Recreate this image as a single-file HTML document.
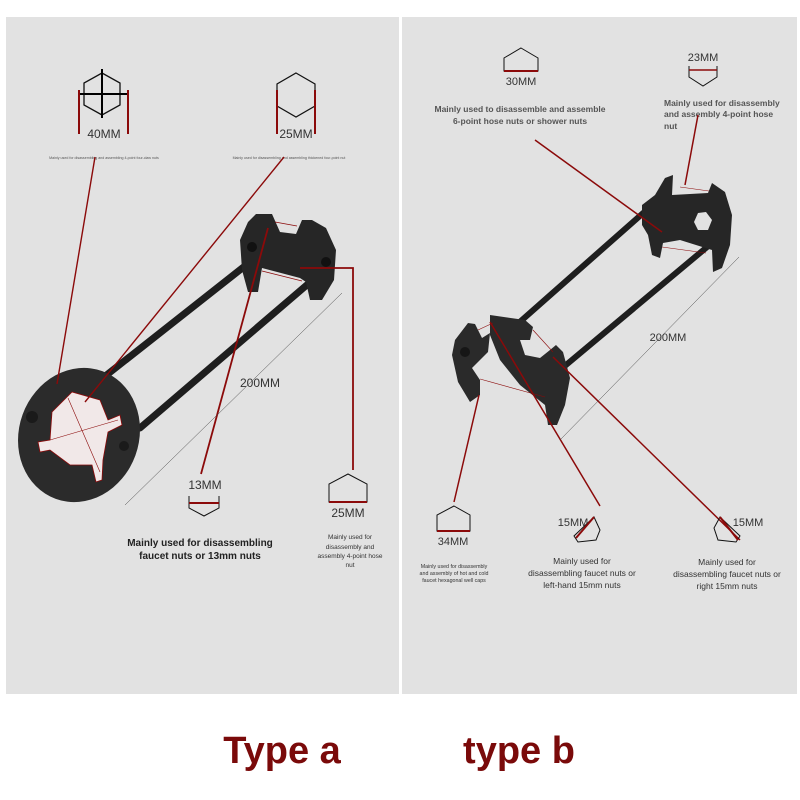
<!DOCTYPE html>
<html><head><meta charset="utf-8"><style>
html,body{margin:0;padding:0;background:#fff;}
svg{display:block;}
text{font-family:"Liberation Sans",sans-serif;}
</style></head><body>
<svg width="800" height="800" viewBox="0 0 800 800" xmlns="http://www.w3.org/2000/svg">
<rect x="0" y="0" width="800" height="800" fill="#fff"/>
<rect x="6" y="17" width="393" height="677" fill="#e2e2e2"/>
<rect x="402" y="17" width="395" height="677" fill="#e2e2e2"/>

<!-- ===== LEFT PANEL ===== -->
<polygon points="102,73 120,83 120,105 102,115 84,105 84,83" fill="none" stroke="#111" stroke-width="1.3"/>
<line x1="102" y1="69" x2="102" y2="118" stroke="#000" stroke-width="2"/>
<line x1="78" y1="94" x2="128" y2="94" stroke="#000" stroke-width="2"/>
<line x1="79" y1="90" x2="79" y2="134" stroke="#8b0a0a" stroke-width="2"/>
<line x1="128" y1="90" x2="128" y2="134" stroke="#8b0a0a" stroke-width="2"/>
<text x="104" y="138" font-size="12" fill="#333" text-anchor="middle">40MM</text>
<polygon points="296,73 315,84 315,106 296,117 277,106 277,84" fill="none" stroke="#111" stroke-width="1.2"/>
<line x1="277" y1="90" x2="277" y2="134" stroke="#8b0a0a" stroke-width="2"/>
<line x1="315" y1="90" x2="315" y2="134" stroke="#8b0a0a" stroke-width="2"/>
<text x="296" y="138" font-size="12" fill="#333" text-anchor="middle">25MM</text>
<text x="104" y="159" font-size="3.6" fill="#555" text-anchor="middle">Mainly used for disassembling and assembling 4-point four-claw nuts</text>
<text x="289" y="159" font-size="3.6" fill="#555" text-anchor="middle">Mainly used for disassembling and assembling thickened four-point nut</text>

<line x1="85" y1="392" x2="255" y2="258" stroke="#1e1e1e" stroke-width="7" stroke-linecap="round"/>
<line x1="140" y1="428" x2="322" y2="272" stroke="#1e1e1e" stroke-width="7" stroke-linecap="round"/>
<path d="M240,240 L248,222 L256,214 L272,214 L280,232 L296,234 L302,220 L312,220 L326,228 L336,250 L334,280 L322,300 L310,300 L306,282 L300,278 L262,268 L258,292 L248,292 L242,270 Z" fill="#262626"/>
<circle cx="252" cy="247" r="5" fill="#111"/>
<circle cx="326" cy="262" r="5" fill="#111"/>
<line x1="275" y1="222" x2="297" y2="226" stroke="#8b0a0a" stroke-width="0.7"/>
<line x1="262" y1="271" x2="302" y2="281" stroke="#8b0a0a" stroke-width="0.7"/>
<ellipse cx="79" cy="435" rx="60" ry="68" transform="rotate(20 79 435)" fill="#2b2b2b"/>
<path d="M52,412 L72,392 L100,400 L108,420 L120,415 L122,425 L108,432 L103,460 L102,480 L96,482 L92,465 L70,465 L50,450 L40,452 L38,442 L50,440 Z" fill="#f1e8e8" stroke="#8b0a0a" stroke-width="0.8"/>
<line x1="50" y1="440" x2="118" y2="420" stroke="#8b0a0a" stroke-width="0.6"/>
<line x1="68" y1="398" x2="100" y2="472" stroke="#8b0a0a" stroke-width="0.6"/>
<circle cx="32" cy="417" r="6" fill="#1a1a1a"/>
<circle cx="124" cy="446" r="5" fill="#1a1a1a"/>
<line x1="95" y1="157" x2="57" y2="384" stroke="#8b0a0a" stroke-width="1.4"/>
<line x1="284" y1="157" x2="85" y2="402" stroke="#8b0a0a" stroke-width="1.4"/>
<line x1="268" y1="228" x2="201" y2="474" stroke="#8b0a0a" stroke-width="1.8"/>
<polyline points="300,268 353,268 353,470" fill="none" stroke="#8b0a0a" stroke-width="1.8"/>
<line x1="342" y1="293" x2="125" y2="505" stroke="#444" stroke-width="0.5"/>
<text x="260" y="387" font-size="12" fill="#333" text-anchor="middle">200MM</text>
<text x="205" y="489" font-size="12" fill="#333" text-anchor="middle">13MM</text>
<polyline points="189,496 189,508 204,516 219,508 219,496" fill="none" stroke="#111" stroke-width="1"/>
<line x1="189" y1="503" x2="219" y2="503" stroke="#8b0a0a" stroke-width="2"/>
<text x="200" y="546" font-size="10" font-weight="bold" fill="#222" text-anchor="middle">Mainly used for disassembling</text>
<text x="200" y="559" font-size="10" font-weight="bold" fill="#222" text-anchor="middle">faucet nuts or 13mm nuts</text>
<polygon points="348,474 367,484 367,502 329,502 329,484" fill="none" stroke="#111" stroke-width="1"/>
<line x1="329" y1="502" x2="367" y2="502" stroke="#8b0a0a" stroke-width="2"/>
<text x="348" y="517" font-size="12" fill="#333" text-anchor="middle">25MM</text>
<text x="350" y="539" font-size="6.5" fill="#333" text-anchor="middle">Mainly used for</text>
<text x="350" y="549" font-size="6.5" fill="#333" text-anchor="middle">disassembly and</text>
<text x="350" y="558" font-size="6.5" fill="#333" text-anchor="middle">assembly 4-point hose</text>
<text x="350" y="567" font-size="6.5" fill="#333" text-anchor="middle">nut</text>

<!-- ===== RIGHT PANEL ===== -->
<polygon points="521,48 538,58 538,71 504,71 504,58" fill="none" stroke="#111" stroke-width="1"/>
<line x1="504" y1="71" x2="538" y2="71" stroke="#8b0a0a" stroke-width="2"/>
<text x="521" y="85" font-size="11" fill="#333" text-anchor="middle">30MM</text>
<text x="703" y="61" font-size="11" fill="#333" text-anchor="middle">23MM</text>
<polyline points="689,66 689,77 703,86 717,77 717,66" fill="none" stroke="#111" stroke-width="1"/>
<line x1="689" y1="70" x2="717" y2="70" stroke="#8b0a0a" stroke-width="1.5"/>
<text x="520" y="112" font-size="8.5" font-weight="bold" fill="#555" text-anchor="middle">Mainly used to disassemble and assemble</text>
<text x="520" y="124" font-size="8.5" font-weight="bold" fill="#555" text-anchor="middle">6-point hose nuts or shower nuts</text>
<text x="664" y="106" font-size="8.5" font-weight="bold" fill="#555">Mainly used for disassembly</text>
<text x="664" y="117" font-size="8.5" font-weight="bold" fill="#555">and assembly 4-point hose</text>
<text x="664" y="129" font-size="8.5" font-weight="bold" fill="#555">nut</text>

<line x1="505" y1="335" x2="650" y2="207" stroke="#1e1e1e" stroke-width="6" stroke-linecap="round"/>
<line x1="560" y1="370" x2="725" y2="232" stroke="#1e1e1e" stroke-width="6" stroke-linecap="round"/>
<path d="M642,205 L655,195 L665,178 L673,175 L672,195 L708,193 L712,183 L725,192 L732,215 L730,245 L722,268 L713,272 L712,250 L680,240 L663,243 L660,258 L652,255 L648,235 L642,225 Z" fill="#262626"/>
<polygon points="706,212 712,220 708,230 698,230 694,222 698,213" fill="#e2e2e2"/>
<line x1="680" y1="187" x2="709" y2="191" stroke="#8b0a0a" stroke-width="0.6"/>
<line x1="662" y1="247" x2="706" y2="253" stroke="#8b0a0a" stroke-width="0.6"/>
<path d="M468,323 L475,324 L482,338 L490,333 L488,352 L472,368 L480,380 L480,395 L470,402 L458,382 L452,355 L455,340 Z" fill="#2a2a2a"/>
<circle cx="465" cy="352" r="5" fill="#161616"/>
<path d="M490,315 L525,320 L533,327 L530,340 L520,340 L525,355 L540,358 L550,350 L556,345 L563,352 L570,378 L565,405 L557,425 L548,425 L545,405 L520,385 L500,360 L490,335 Z" fill="#2a2a2a"/>
<line x1="478" y1="330" x2="493" y2="323" stroke="#8b0a0a" stroke-width="0.6"/>
<line x1="480" y1="379" x2="545" y2="397" stroke="#8b0a0a" stroke-width="0.6"/>
<line x1="533" y1="330" x2="553" y2="352" stroke="#8b0a0a" stroke-width="0.6"/>
<line x1="535" y1="140" x2="662" y2="232" stroke="#8b0a0a" stroke-width="1.5"/>
<line x1="698" y1="115" x2="685" y2="185" stroke="#8b0a0a" stroke-width="1.5"/>
<line x1="479" y1="395" x2="454" y2="502" stroke="#8b0a0a" stroke-width="1.5"/>
<line x1="490" y1="322" x2="600" y2="506" stroke="#8b0a0a" stroke-width="1.5"/>
<line x1="553" y1="357" x2="740" y2="540" stroke="#8b0a0a" stroke-width="1.5"/>
<line x1="739" y1="257" x2="560" y2="440" stroke="#444" stroke-width="0.5"/>
<text x="668" y="341" font-size="11" fill="#333" text-anchor="middle">200MM</text>
<polygon points="454,506 470,515 470,531 437,531 437,515" fill="none" stroke="#111" stroke-width="1"/>
<line x1="437" y1="531" x2="470" y2="531" stroke="#8b0a0a" stroke-width="2"/>
<text x="453" y="545" font-size="11" fill="#333" text-anchor="middle">34MM</text>
<text x="454" y="568" font-size="5.3" fill="#333" text-anchor="middle">Mainly used for disassembly</text>
<text x="454" y="575" font-size="5.3" fill="#333" text-anchor="middle">and assembly of hot and cold</text>
<text x="454" y="582" font-size="5.3" fill="#333" text-anchor="middle">faucet hexagonal well caps</text>
<text x="573" y="526" font-size="11" fill="#333" text-anchor="middle">15MM</text>
<polygon points="594,517 600,530 596,540 578,542 574,536" fill="none" stroke="#111" stroke-width="1"/>
<line x1="576" y1="538" x2="594" y2="517" stroke="#8b0a0a" stroke-width="2"/>
<text x="582" y="564" font-size="8.5" fill="#333" text-anchor="middle">Mainly used for</text>
<text x="582" y="576" font-size="8.5" fill="#333" text-anchor="middle">disassembling faucet nuts or</text>
<text x="582" y="588" font-size="8.5" fill="#333" text-anchor="middle">left-hand 15mm nuts</text>
<text x="748" y="526" font-size="11" fill="#333" text-anchor="middle">15MM</text>
<polygon points="720,517 714,528 718,540 736,542 740,536" fill="none" stroke="#111" stroke-width="1"/>
<line x1="738" y1="540" x2="720" y2="517" stroke="#8b0a0a" stroke-width="2"/>
<text x="727" y="565" font-size="8.5" fill="#333" text-anchor="middle">Mainly used for</text>
<text x="727" y="577" font-size="8.5" fill="#333" text-anchor="middle">disassembling faucet nuts or</text>
<text x="727" y="589" font-size="8.5" fill="#333" text-anchor="middle">right 15mm nuts</text>

<text x="282" y="763" font-size="38" font-weight="bold" fill="#7a0a0a" text-anchor="middle">Type a</text>
<text x="519" y="763" font-size="38" font-weight="bold" fill="#7a0a0a" text-anchor="middle">type b</text>
</svg>
</body></html>
